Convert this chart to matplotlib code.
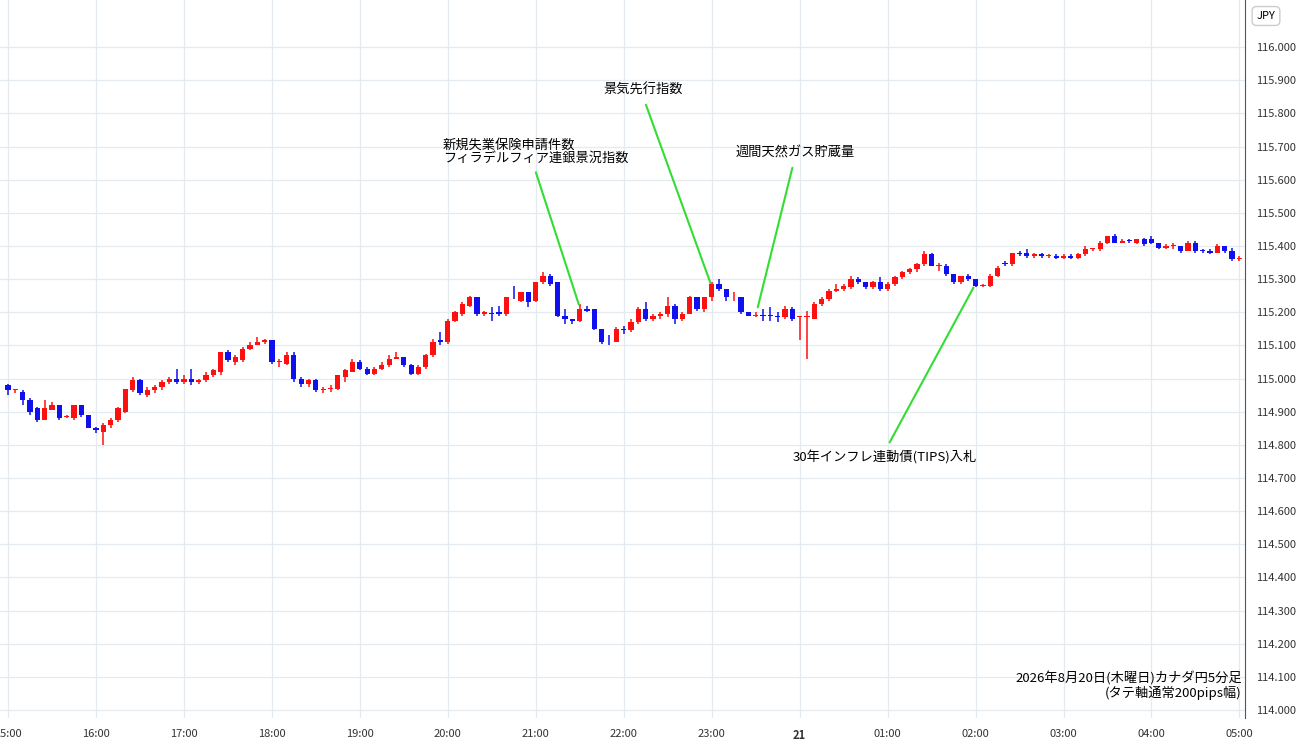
import matplotlib
matplotlib.use("Agg")
import matplotlib.pyplot as plt
import numpy as np

plt.rcParams['font.family'] = ['Noto Sans CJK JP', 'DejaVu Sans']

candles = [
(114.98,114.965,114.985,114.95),(114.965,114.965,114.97,114.955),(114.96,114.935,114.965,114.92),(114.935,114.90,114.94,114.89),
(114.91,114.875,114.915,114.87),(114.875,114.91,114.935,114.875),(114.905,114.92,114.93,114.905),(114.92,114.88,114.92,114.875),
(114.885,114.886,114.89,114.88),(114.88,114.92,114.92,114.875),(114.92,114.89,114.92,114.885),(114.89,114.85,114.89,114.85),
(114.85,114.845,114.855,114.835),(114.84,114.86,114.865,114.80),(114.86,114.875,114.88,114.85),(114.875,114.91,114.915,114.87),
(114.90,114.97,114.97,114.895),(114.965,114.995,115.005,114.96),(114.995,114.955,115.00,114.95),(114.95,114.965,114.975,114.945),
(114.965,114.975,114.98,114.955),(114.975,114.99,114.995,114.965),(114.99,115.00,115.005,114.985),(115.00,114.99,115.03,114.985),
(114.99,115.00,115.01,114.985),(115.00,114.99,115.03,114.98),(114.99,114.995,115.00,114.985),(114.995,115.01,115.02,114.99),
(115.01,115.025,115.03,115.005),(115.02,115.08,115.08,115.01),(115.08,115.055,115.085,115.05),(115.05,115.065,115.07,115.04),
(115.055,115.09,115.095,115.05),(115.09,115.10,115.11,115.085),(115.10,115.11,115.125,115.10),(115.11,115.115,115.12,115.105),
(115.115,115.05,115.115,115.045),(115.05,115.051,115.06,115.035),(115.045,115.07,115.08,115.04),(115.07,115.00,115.08,114.99),
(115.00,114.985,115.005,114.975),(114.985,114.995,115.00,114.975),(114.995,114.965,115.00,114.96),(114.965,114.966,114.975,114.955),
(114.97,114.971,114.98,114.96),(114.97,115.01,115.01,114.965),(115.005,115.025,115.03,114.99),(115.02,115.05,115.06,115.02),
(115.05,115.03,115.055,115.025),(115.03,115.015,115.035,115.01),(115.015,115.03,115.035,115.01),(115.03,115.04,115.05,115.025),
(115.04,115.06,115.07,115.035),(115.06,115.065,115.08,115.06),(115.065,115.04,115.065,115.035),(115.04,115.015,115.045,115.01),
(115.015,115.035,115.04,115.01),(115.035,115.07,115.075,115.03),(115.07,115.11,115.12,115.065),(115.115,115.11,115.14,115.10),
(115.11,115.175,115.18,115.105),(115.175,115.20,115.205,115.17),(115.195,115.225,115.23,115.19),(115.22,115.245,115.25,115.215),
(115.245,115.195,115.245,115.19),(115.195,115.20,115.205,115.19),(115.196,115.195,115.215,115.175),(115.20,115.195,115.22,115.19),
(115.195,115.245,115.245,115.19),(115.246,115.245,115.28,115.24),(115.235,115.26,115.26,115.23),(115.26,115.23,115.26,115.215),
(115.235,115.29,115.29,115.23),(115.29,115.31,115.32,115.285),(115.31,115.285,115.315,115.28),(115.29,115.19,115.29,115.185),
(115.19,115.18,115.21,115.165),(115.18,115.175,115.18,115.165),(115.175,115.21,115.225,115.17),(115.21,115.205,115.22,115.20),
(115.21,115.15,115.21,115.145),(115.15,115.11,115.15,115.105),(115.116,115.115,115.13,115.10),(115.11,115.15,115.155,115.11),
(115.15,115.145,115.16,115.135),(115.145,115.17,115.18,115.14),(115.17,115.21,115.215,115.165),(115.21,115.18,115.23,115.175),
(115.18,115.19,115.195,115.175),(115.19,115.195,115.20,115.18),(115.195,115.22,115.245,115.185),(115.22,115.18,115.225,115.165),
(115.18,115.195,115.20,115.175),(115.195,115.245,115.25,115.195),(115.245,115.21,115.245,115.205),(115.21,115.245,115.245,115.20),
(115.245,115.285,115.29,115.235),(115.285,115.27,115.30,115.265),(115.27,115.245,115.27,115.235),(115.245,115.246,115.26,115.235),
(115.245,115.20,115.245,115.195),(115.20,115.19,115.20,115.19),(115.19,115.191,115.20,115.185),(115.191,115.19,115.21,115.175),
(115.191,115.19,115.215,115.175),(115.186,115.185,115.20,115.17),(115.185,115.21,115.22,115.18),(115.21,115.18,115.215,115.175),
(115.185,115.186,115.19,115.115),(115.185,115.186,115.205,115.06),(115.18,115.225,115.23,115.18),(115.225,115.24,115.245,115.22),
(115.24,115.265,115.27,115.235),(115.265,115.27,115.285,115.26),(115.27,115.28,115.285,115.265),(115.276,115.30,115.31,115.27),
(115.30,115.29,115.305,115.285),(115.29,115.276,115.29,115.27),(115.276,115.29,115.295,115.27),(115.29,115.27,115.305,115.265),
(115.27,115.285,115.29,115.265),(115.285,115.306,115.31,115.28),(115.306,115.32,115.325,115.30),(115.32,115.33,115.335,115.315),
(115.33,115.345,115.35,115.32),(115.345,115.375,115.385,115.34),(115.375,115.34,115.38,115.34),(115.34,115.341,115.35,115.325),
(115.34,115.315,115.345,115.31),(115.315,115.29,115.315,115.285),(115.29,115.31,115.31,115.285),(115.31,115.30,115.315,115.295),
(115.30,115.28,115.30,115.275),(115.28,115.281,115.285,115.275),(115.28,115.31,115.315,115.275),(115.31,115.335,115.34,115.305),
(115.35,115.345,115.355,115.34),(115.345,115.38,115.38,115.34),(115.38,115.375,115.385,115.37),(115.38,115.37,115.39,115.365),
(115.37,115.375,115.38,115.365),(115.375,115.37,115.38,115.365),(115.37,115.371,115.375,115.365),(115.37,115.365,115.375,115.36),
(115.365,115.37,115.375,115.36),(115.37,115.365,115.375,115.36),(115.365,115.375,115.38,115.36),(115.375,115.39,115.40,115.37),
(115.39,115.391,115.395,115.385),(115.39,115.41,115.415,115.385),(115.41,115.43,115.43,115.405),(115.43,115.41,115.435,115.41),
(115.41,115.415,115.42,115.41),(115.416,115.415,115.42,115.41),(115.41,115.42,115.42,115.405),(115.42,115.405,115.425,115.40),
(115.42,115.41,115.43,115.405),(115.41,115.395,115.41,115.39),(115.395,115.40,115.405,115.39),(115.40,115.401,115.41,115.39),
(115.40,115.385,115.40,115.38),(115.385,115.41,115.415,115.385),(115.41,115.385,115.415,115.38),(115.386,115.385,115.39,115.38),
(115.385,115.38,115.39,115.375),(115.38,115.40,115.405,115.38),(115.40,115.385,115.40,115.38),(115.385,115.36,115.395,115.355),
(115.36,115.361,115.37,115.355),
]
opens = [c[0] for c in candles]
closes = [c[1] for c in candles]
highs = [c[2] for c in candles]
lows = [c[3] for c in candles]

hour_labels = ["15:00","16:00","17:00","18:00","19:00","20:00","21:00","22:00","23:00","21",
               "01:00","02:00","03:00","04:00","05:00"]
ytick_vals = [114.0 + 0.1*k for k in range(21)]

fig = plt.figure(figsize=(13, 7.45), dpi=100)
ax = fig.add_axes([0, 1-718/745, 1245/1300, 718/745])
RED = '#ff1010'; BLUE = '#1010ee'
x = np.arange(len(candles))
for i in x:
    o, c, h, l = opens[i], closes[i], highs[i], lows[i]
    col = RED if c >= o else BLUE
    ax.vlines(i, l, h, color=col, lw=1.1, zorder=3)
    ax.bar(i, max(abs(c-o), 0.0025), bottom=min(o, c), width=0.72, color=col, zorder=4, linewidth=0)

ax.set_xlim(-1.09, 168.76)
ax.set_ylim(113.976, 116.142)
ax.set_xticks(np.arange(0, 169, 12))
ax.set_xticklabels(hour_labels, fontsize=8, color='#333333')
for t in ax.get_xticklabels():
    if t.get_text() == "21":
        t.set_fontweight('bold')
ax.yaxis.tick_right()
ax.set_yticks(ytick_vals)
ax.set_yticklabels([f"{v:.3f}" for v in ytick_vals], fontsize=8, color='#333333')
ax.tick_params(length=0, pad=8)
ax.grid(True, color='#e3eaf0', lw=0.9, zorder=0)
for s in ['top', 'left', 'bottom']:
    ax.spines[s].set_visible(False)
ax.spines['right'].set_color('#555555')

gc = '#33dd33'
ax.annotate("", xy=(78, 115.215), xytext=(71.9, 115.63), arrowprops=dict(arrowstyle='-', color=gc, lw=1.5))
ax.text(59.3, 115.683, "新規失業保険申請件数\nフィラデルフィア連銀景況指数", fontsize=9.5, ha='left', va='center', linespacing=1.0)
ax.annotate("", xy=(96, 115.278), xytext=(86.9, 115.834), arrowprops=dict(arrowstyle='-', color=gc, lw=1.5))
ax.text(81.3, 115.87, "景気先行指数", fontsize=9.5, ha='left', va='center')
ax.annotate("", xy=(102.2, 115.207), xytext=(107.1, 115.644), arrowprops=dict(arrowstyle='-', color=gc, lw=1.5))
ax.text(99.2, 115.68, "週間天然ガス貯蔵量", fontsize=9.5, ha='left', va='center')
ax.annotate("", xy=(131.9, 115.282), xytext=(120.1, 114.80), arrowprops=dict(arrowstyle='-', color=gc, lw=1.5))
ax.text(107.1, 114.763, "30年インフレ連動債(TIPS)入札", fontsize=9.5, ha='left', va='center')

ax.text(168.3, 114.03, "2026年8月20日(木曜日)カナダ円5分足\n(タテ軸通常200pips幅)", fontsize=9.5,
        ha='right', va='bottom', linespacing=1.0)

fig.text(1266/1300, 1-16/745, "JPY", fontsize=8, ha='center', va='center',
         bbox=dict(boxstyle='round,pad=0.4', fc='white', ec='#cccccc'))
fig.savefig("out.png", dpi=100)
